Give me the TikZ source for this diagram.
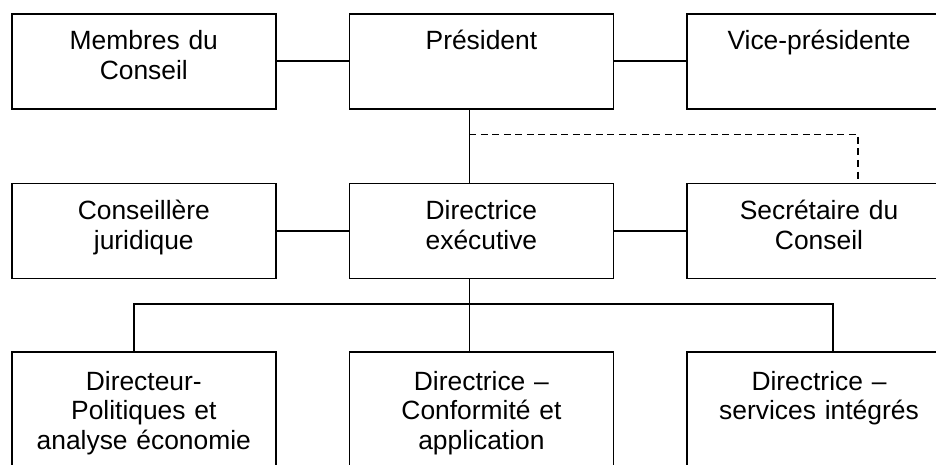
\documentclass[tikz,border=0pt]{standalone}
\usepackage{fontspec}
\setmainfont{Liberation Sans}
\usetikzlibrary{positioning}

\begin{document}
\begin{tikzpicture}[x=1pt, y=1pt,
    post/.style={rectangle, draw=black, line width=1.6pt, inner sep=0pt,
                 minimum width=264pt, text width=250pt, align=center,
                 text height=36pt, text depth=59pt,
                 font=\fontsize{26.4}{29.6}\selectfont},
    lowpost/.style={post, text height=38pt, text depth=82pt},
    link/.style={line width=1.6pt, black},
    dotlink/.style={link, dash pattern=on 7pt off 4.5pt}
  ]
    \useasboundingbox (0,0) rectangle (936,-465);
    \clip (0,0) rectangle (936,-465);

    \node[post, anchor=north west] (mem) at (11,-13) {Membres du\\Conseil};
    \node[post, right=72pt of mem] (pres) {Président\\~};
    \node[post, right=72pt of pres] (vice) {Vice-présidente\\~};
    \node[post, below=73pt of mem] (cons) {Conseillère\\juridique};
    \node[post, right=72pt of cons] (dirx) {Directrice\\exécutive};
    \node[post, right=72pt of dirx] (sec) {Secrétaire du\\Conseil};
    \node[lowpost, below=72pt of cons] (pol) {Directeur-\\Politiques et\\analyse économie};
    \node[lowpost, right=72pt of pol] (conf) {Directrice --\\Conformité et\\application};
    \node[lowpost, right=72pt of conf] (serv) {Directrice --\\services intégrés\\~};

    \draw[link] (mem) -- (pres);
    \draw[link] (pres) -- (vice);
    \draw[link] (cons) -- (dirx);
    \draw[link] (dirx) -- (sec);
    \draw[link] ([xshift=-12pt]pres.south) -- ([xshift=-12pt]dirx.north);
    \draw[dotlink] ([xshift=-12pt]pres.south) ++(0,-25) -| ([xshift=39pt]sec.north);
    \draw[link] ([xshift=-12pt]dirx.south) -- ([xshift=-12pt]conf.north);
    \draw[link] ([xshift=-10pt]pol.north) -- ++(0,47) -| ([xshift=14pt]serv.north);
\end{tikzpicture}
\end{document}
